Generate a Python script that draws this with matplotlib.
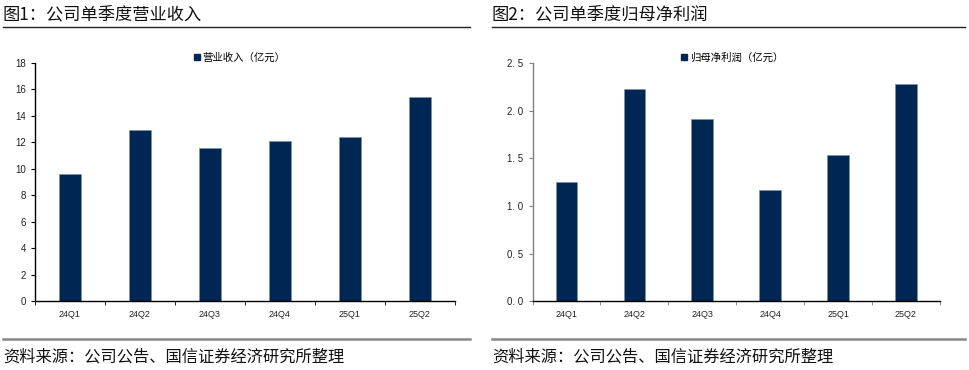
import matplotlib
matplotlib.use("Agg")
from matplotlib import pyplot as plt
from matplotlib.lines import Line2D
import numpy as np

plt.rcParams['font.family'] = ['Noto Sans CJK SC', 'DejaVu Sans']

quarters = ['24Q1', '24Q2', '24Q3', '24Q4', '25Q1', '25Q2']
revenue = [9.6, 12.9, 11.55, 12.1, 12.4, 15.4]
net_profit = [1.25, 2.23, 1.91, 1.17, 1.53, 2.28]

titles = ['图1：公司单季度营业收入', '图2：公司单季度归母净利润']
legends = ['营业收入（亿元）', '归母净利润（亿元）']
source = '资料来源：公司公告、国信证券经济研究所整理'

navy = '#002654'

fig = plt.figure(figsize=(9.7, 3.7), dpi=100)

panels = [
    dict(rect=[0.036, 0.186, 0.433, 0.644], vals=revenue, ymax=18, step=2,
         fmt='{:.0f}', spine='#000000', x0=0.003, x1=0.485, leg_x=0.195),
    dict(rect=[0.549, 0.186, 0.420, 0.644], vals=net_profit, ymax=2.5, step=0.5,
         fmt='{:.1f}', spine='#808080', x0=0.507, x1=0.995, leg_x=0.697),
]

for i, p in enumerate(panels):
    ax = fig.add_axes(p['rect'])
    x = np.arange(len(quarters))
    ax.bar(x, p['vals'], width=0.32, color=navy, edgecolor='#7a8fa8', linewidth=0.4)
    ax.set_xlim(-0.5, len(quarters) - 0.5)
    ax.set_ylim(0, p['ymax'])
    yt = np.arange(0, p['ymax'] + p['step'] / 2, p['step'])
    ax.set_yticks(yt)
    if i == 1:
        # the source writes these as "2. 5"
        ax.set_yticklabels([p['fmt'].format(v).replace('.', '. ') for v in yt])
    else:
        ax.set_yticklabels([p['fmt'].format(v) for v in yt])
    ax.set_xticks(x)
    ax.set_xticklabels(quarters)
    ax.set_xticks(np.arange(-0.5, len(quarters)), minor=True)
    ax.tick_params(axis='x', which='major', length=0, pad=6, labelsize=6.5, colors='#222222')
    ax.tick_params(axis='x', which='minor', length=3, direction='out', color=p['spine'])
    ax.tick_params(axis='y', length=3, direction='out', labelsize=7, colors='#222222', color=p['spine'])
    for lab in ax.get_xticklabels() + ax.get_yticklabels():
        lab.set_family(['Liberation Sans', 'DejaVu Sans'])
    for s in ['top', 'right']:
        ax.spines[s].set_visible(False)
    ax.spines['left'].set_color(p['spine'])
    ax.spines['bottom'].set_color('#000000')
    ax.spines['left'].set_linewidth(1.0)
    ax.spines['bottom'].set_linewidth(1.0)

    h = Line2D([], [], marker='s', color=navy, linestyle='none', markersize=4)
    fig.legend([h], [legends[i]], loc='center left', bbox_to_anchor=(p['leg_x'], 0.845),
               frameon=False, fontsize=7.5, handletextpad=0.1, handlelength=0.8,
               borderaxespad=0)

    fig.text(p['x0'], 0.962, titles[i], fontsize=12.4, va='center', ha='left',
             color='#111111', fontweight='medium')
    fig.add_artist(Line2D([p['x0'], p['x1']], [0.928, 0.928], color='#222222', linewidth=1.0))
    fig.add_artist(Line2D([p['x0'], p['x1']], [0.083, 0.083], color='#888888', linewidth=1.8))
    fig.text(p['x0'], 0.036, source, fontsize=11.7, va='center', ha='left', color='#111111')

fig.savefig('out.png', dpi=100)
